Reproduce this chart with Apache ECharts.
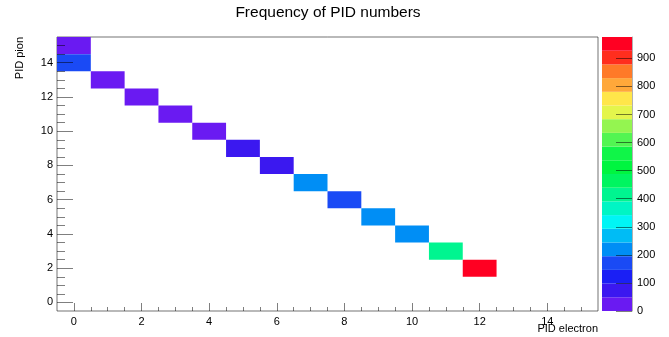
<!DOCTYPE html>
<html><head><meta charset="utf-8">
<script src="https://cdn.jsdelivr.net/npm/echarts@6/dist/echarts.min.js"></script>
<style>html,body{margin:0;padding:0;background:#fff}#c{width:669px;height:337px}</style>
</head><body><div id="c"></div>
<script>
// ---- data ----
const pidElectron = [0, 0, 1, 2, 3, 4, 5, 6, 7, 8, 9, 10, 11, 12];
const pidPion     = [15, 14, 13, 12, 11, 10, 9, 8, 7, 6, 5, 4, 3, 2];
const counts      = [30, 170, 35, 30, 32, 28, 75, 70, 215, 165, 220, 225, 415, 976];
const axisTickLabels = [0, 2, 4, 6, 8, 10, 12, 14];
const zTickLabels = [0, 100, 200, 300, 400, 500, 600, 700, 800, 900];
const zMax = 976;
const nContours = 20;
// ---- style ----
const palette = ['#6a1af2','#3b18f0','#1a1ff5','#1a4af5','#008ef5','#00bcf5','#00f5f5','#00f5c4','#00f590','#00f560',
                 '#00f540','#10f548','#52f552','#94f550','#e4f54c','#ffe64a','#ffa83a','#ff7a28','#ff2e1e','#ff0022'];
const font = 'Liberation Sans, Arial, Helvetica, sans-serif';
const tickColor = 'rgba(0,0,0,0.5)';

const minorTicks = [];
for (let v = 0.5; v < 15.5; v += 0.5) if (v % 2 !== 0) minorTicks.push(v);

const step = zMax / nContours;
function colorFor(v) { return palette[Math.min(nContours - 1, Math.floor(v / step))]; }

const cells = pidElectron.map((x, i) => [x, pidPion[i], counts[i]]);
const bands = [];
for (let i = 0; i < nContours; i++) bands.push([i * step, (i + 1) * step, i]);

const chart = echarts.init(document.getElementById('c'), null, {renderer: 'canvas'});
const majorAxis = (len, margin) => ({
  type: 'value', min: -0.5, max: 15.5, z: 10,
  splitLine: {show: false}, axisLine: {show: false, onZero: false},
  axisTick: {inside: true, length: len, customValues: axisTickLabels, lineStyle: {color: tickColor}},
  axisLabel: {customValues: axisTickLabels, fontSize: 11, color: '#000', fontFamily: font, margin: margin}
});
const minorAxis = (len) => ({
  type: 'value', min: -0.5, max: 15.5, z: 10,
  splitLine: {show: false}, axisLine: {show: false, onZero: false},
  axisTick: {inside: true, length: len, customValues: minorTicks, lineStyle: {color: tickColor}},
  axisLabel: {show: false}
});

chart.setOption({
  animation: false,
  backgroundColor: '#fff',
  grid: [
    {left: 57, top: 37, width: 541, height: 274, show: true, borderColor: 'rgba(0,0,0,0.55)', borderWidth: 1},
    {left: 602, top: 37, width: 30, height: 274}
  ],
  xAxis: [
    Object.assign(majorAxis(8, 5), {gridIndex: 0, position: 'bottom'}),
    Object.assign(minorAxis(4), {gridIndex: 0, position: 'bottom', offset: 0}),
    {gridIndex: 1, type: 'value', min: 0, max: 1, show: false}
  ],
  yAxis: [
    Object.assign(majorAxis(16, 4), {gridIndex: 0, position: 'left'}),
    Object.assign(minorAxis(8), {gridIndex: 0, position: 'left', offset: 0}),
    {gridIndex: 1, type: 'value', min: 0, max: zMax, position: 'right', z: 10,
     splitLine: {show: false},
     axisLine: {show: true, onZero: false, lineStyle: {color: 'rgba(0,0,0,0.3)'}},
     axisTick: {inside: true, length: 16, customValues: zTickLabels, lineStyle: {color: tickColor}},
     axisLabel: {customValues: zTickLabels, fontSize: 11, color: '#000', fontFamily: font, margin: 5}}
  ],
  series: [
    {
      type: 'custom', xAxisIndex: 0, yAxisIndex: 0, data: cells, encode: {x: 0, y: 1},
      renderItem: function (params, api) {
        const x = api.value(0), y = api.value(1), v = api.value(2);
        const p0 = api.coord([x - 0.5, y + 0.5]);
        const p1 = api.coord([x + 0.5, y - 0.5]);
        return {type: 'rect', shape: {x: p0[0], y: p0[1], width: p1[0] - p0[0], height: p1[1] - p0[1]},
                style: {fill: colorFor(v)}};
      }
    },
    {
      type: 'custom', xAxisIndex: 2, yAxisIndex: 2, data: bands,
      renderItem: function (params, api) {
        const lo = api.value(0), hi = api.value(1), i = api.value(2);
        const p0 = api.coord([0, hi]);
        const p1 = api.coord([1, lo]);
        return {type: 'rect', shape: {x: p0[0], y: p0[1], width: p1[0] - p0[0], height: p1[1] - p0[1]},
                style: {fill: palette[i]}};
      }
    }
  ],
  graphic: [
    {type: 'text', x: 328, y: 13, style: {text: 'Frequency of PID numbers', fontSize: 15.5, fontFamily: font, fill: '#000', textAlign: 'center', textVerticalAlign: 'middle'}},
    {type: 'text', x: 598, y: 329, style: {text: 'PID electron', fontSize: 11, fontFamily: font, fill: '#000', textAlign: 'right', textVerticalAlign: 'middle'}},
    {type: 'text', x: 20, y: 37, rotation: Math.PI / 2, style: {text: 'PID pion', fontSize: 11, fontFamily: font, fill: '#000', textAlign: 'right', textVerticalAlign: 'middle'}}
  ]
});
</script>
</body></html>
